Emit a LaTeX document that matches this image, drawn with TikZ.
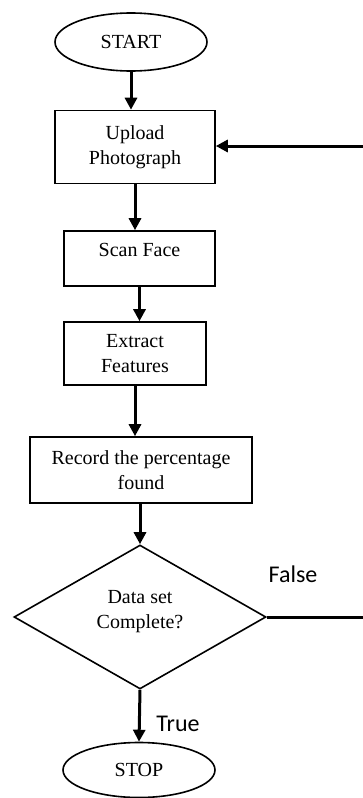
\documentclass[tikz,border=0pt]{standalone}
\usepackage{fontspec}
\setmainfont{Liberation Serif}
\newfontfamily\labelfont{Carlito}
\usetikzlibrary{shapes.geometric,arrows.meta}
\begin{document}
\begin{tikzpicture}[x=1pt,y=1pt,
  every node/.style={font=\fontsize{20}{25}\selectfont, align=center, inner sep=0pt},
  procbox/.style={draw, line width=1.6pt, rectangle},
  term/.style={draw, line width=1.6pt, ellipse},
  decision/.style={draw, line width=1.6pt, diamond},
  arr/.style={line width=3pt, -{Triangle[length=12pt,width=12pt]}},
  plain/.style={line width=3pt},
  lbl/.style={font=\labelfont\fontsize{24}{28}\selectfont}]
\useasboundingbox (0,0) rectangle (363,-798);
\node[term, minimum width=152pt, minimum height=58pt] (start) at (131,-42) {START};
\node[procbox, minimum width=160pt, minimum height=73pt] (upload) at (135,-147) {Upload\\Photograph};
\node[procbox, minimum width=151pt, minimum height=55pt] (scan) at (139.5,-258.5) {};
\node (scantext) at (139.5,-250) {Scan Face};
\node[procbox, minimum width=142pt, minimum height=63pt] (extract) at (135,-353.5) {Extract\\Features};
\node[procbox, minimum width=222pt, minimum height=66pt] (record) at (141,-470) {Record the percentage\\found};
\node[decision, minimum width=252pt, minimum height=144pt] (dec) at (140,-617) {};
\node (dectext) at (140,-612) {Data set\\Complete?};
\node[term, minimum width=152pt, minimum height=55pt] (stop) at (139,-770) {STOP};
\node[lbl] (false) at (293,-574) {False};
\node[lbl] (true) at (178,-724) {True};
\coordinate (fb) at (363,-146);
\coordinate (fe) at (363,-615);
\draw[arr] (start.south) -- (start.south |- upload.north);
\draw[arr] (upload.south) -- (upload.south |- scan.north);
\draw[arr] (scan.south) -- (scan.south |- extract.north);
\draw[arr] (extract.south) -- (extract.south |- record.north);
\draw[arr] (record.south -| dec.north) -- (dec.north);
\draw[arr] (dec.south) -- (stop.north);
\draw[plain] (dec.east) -- (dec.east -| fe);
\draw[arr] (fb) -- (fb -| upload.east);
\end{tikzpicture}
\end{document}
